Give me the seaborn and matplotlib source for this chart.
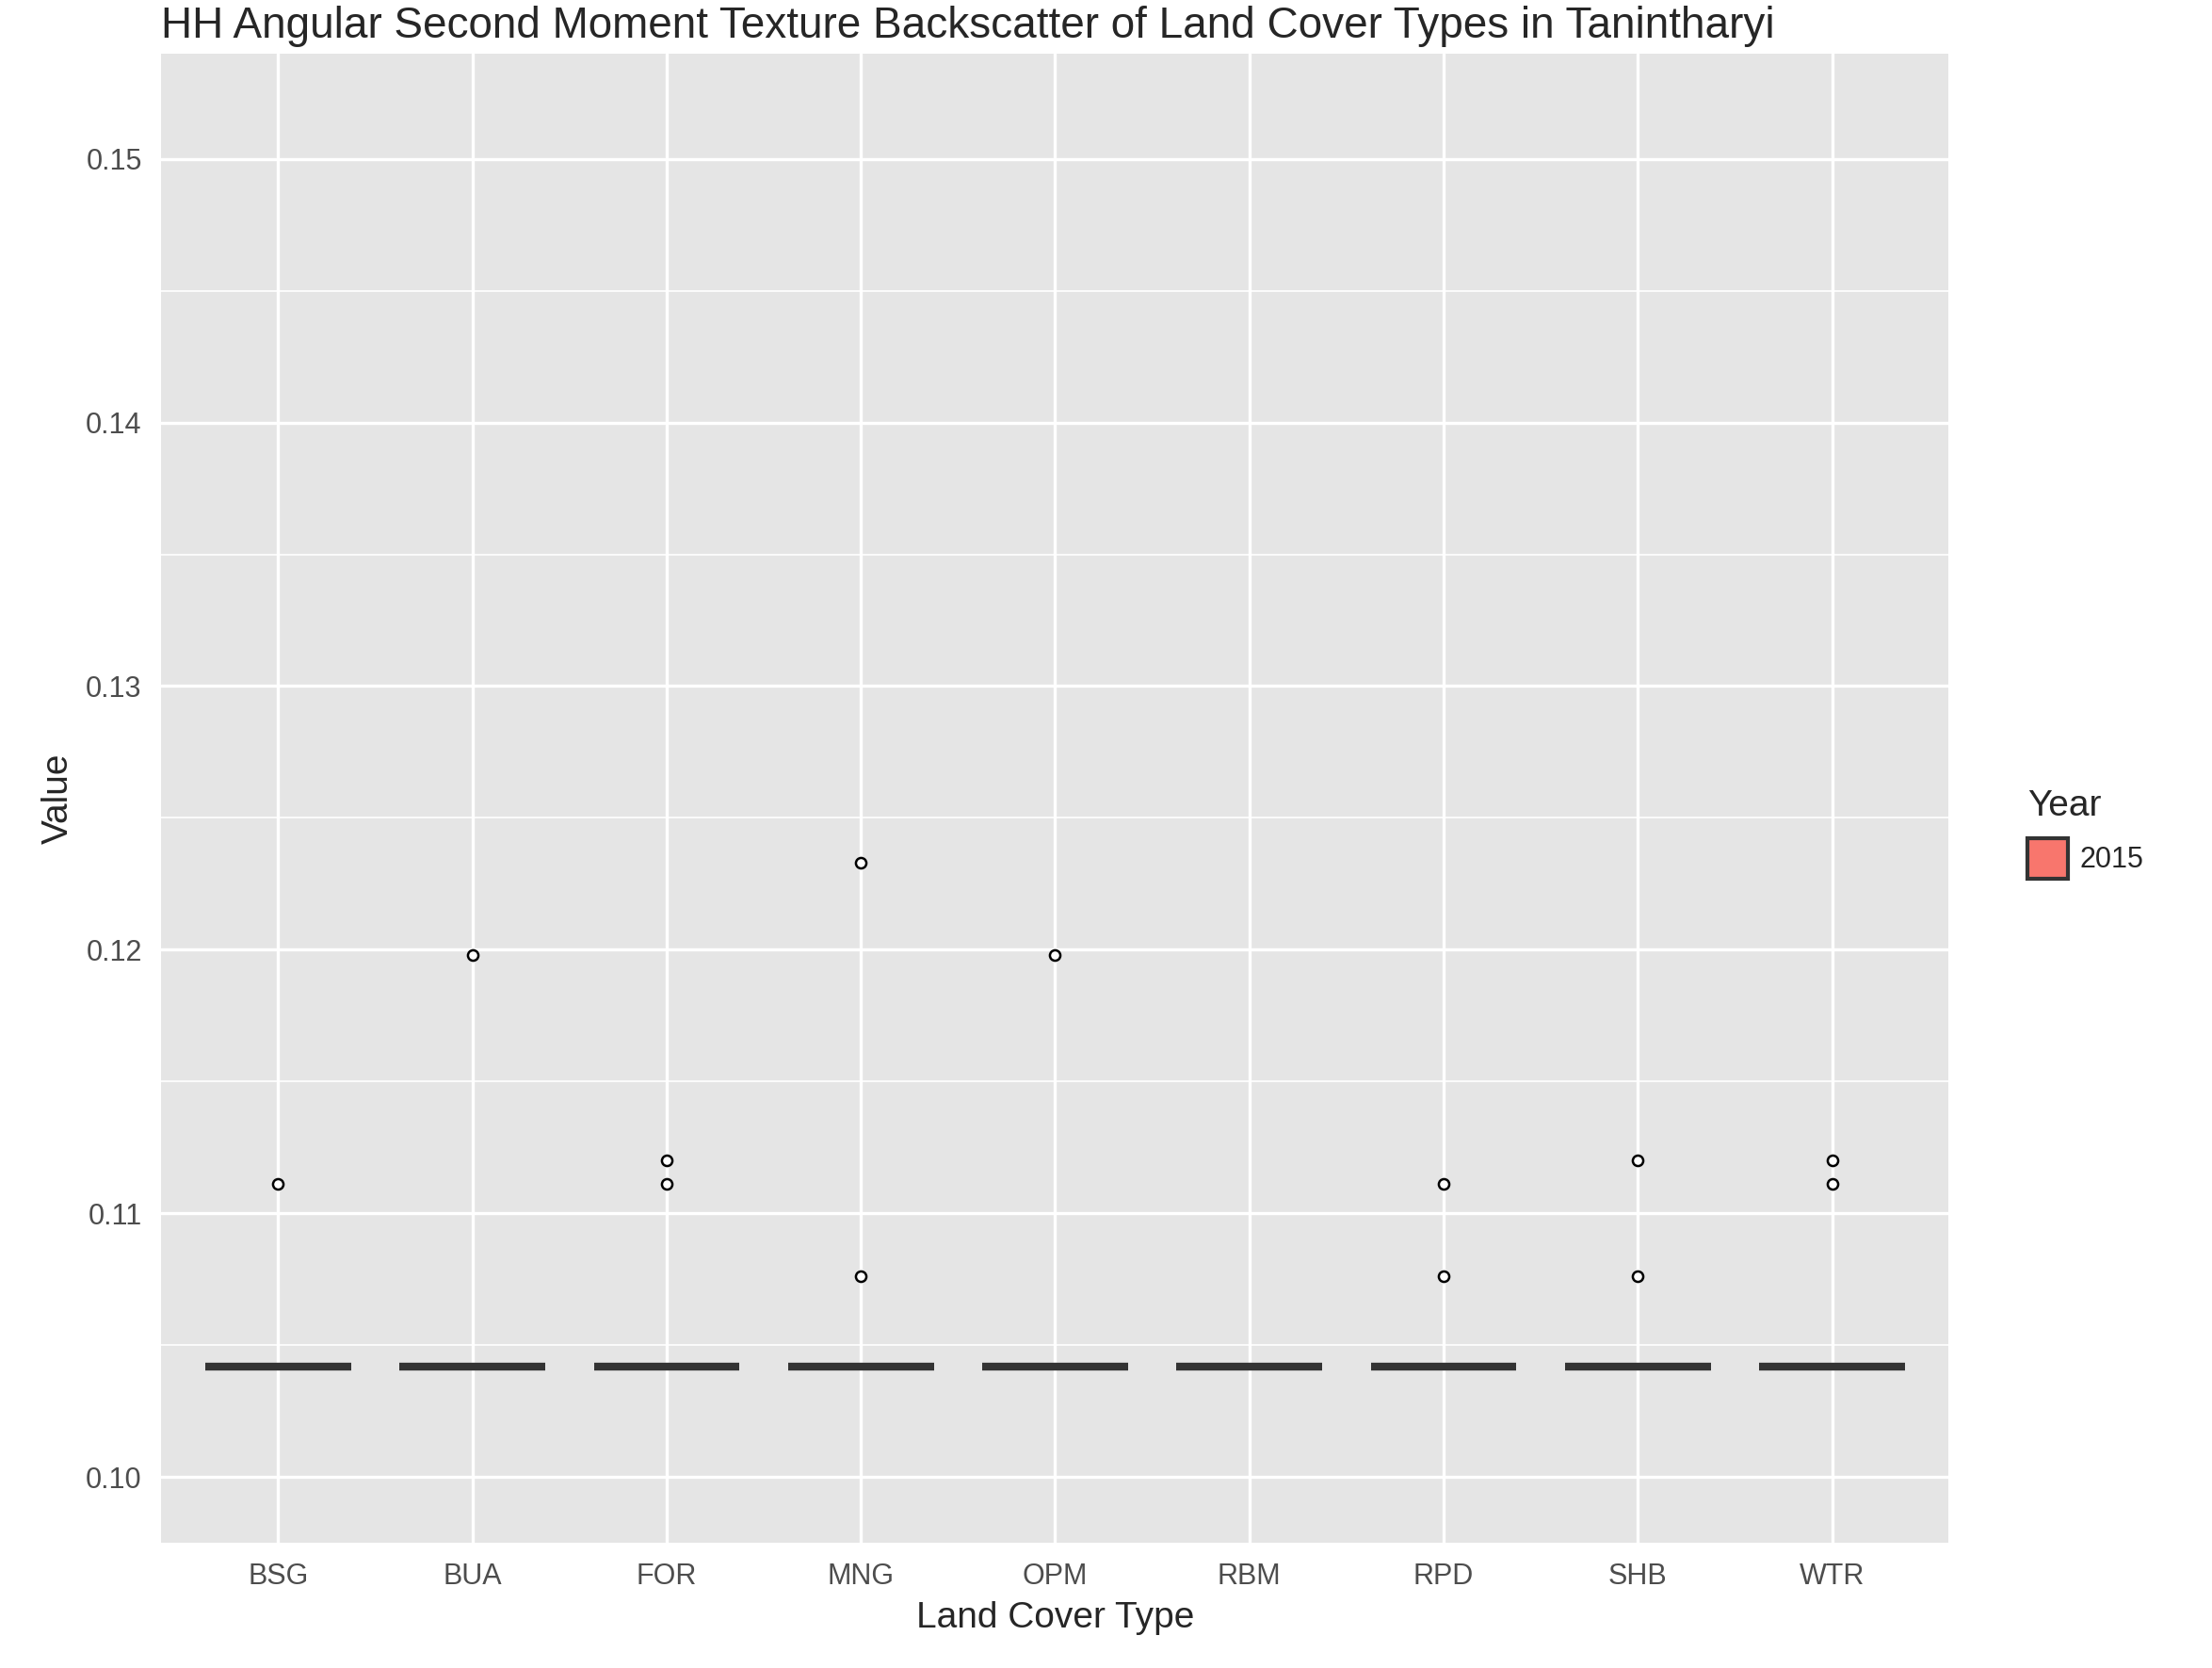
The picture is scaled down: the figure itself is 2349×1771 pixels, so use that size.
import pandas as pd
import numpy as np
import matplotlib.pyplot as plt
import seaborn as sns
from matplotlib.patches import Patch

categories = ['BSG', 'BUA', 'FOR', 'MNG', 'OPM', 'RBM', 'RPD', 'SHB', 'WTR']
base_value = 0.10417
base_count = 30
outliers = {
    'BSG': [0.1111],
    'BUA': [0.1198],
    'FOR': [0.1120, 0.1111],
    'MNG': [0.1233, 0.1076],
    'OPM': [0.1198],
    'RBM': [],
    'RPD': [0.1111, 0.1076],
    'SHB': [0.1120, 0.1076],
    'WTR': [0.1120, 0.1111],
}

rows = []
for c in categories:
    rows += [(c, base_value, '2015')] * base_count
    rows += [(c, v, '2015') for v in outliers[c]]
df = pd.DataFrame(rows, columns=['Land Cover Type', 'Value', 'Year'])

sns.set_style("darkgrid", {"axes.facecolor": "#E5E5E5", "grid.color": "white"})
plt.rcParams['font.family'] = ['Liberation Sans', 'DejaVu Sans']

fig = plt.figure(figsize=(11.745, 8.855), dpi=200)
ax = fig.add_axes([0.073, 0.075, 0.808, 0.893])
sns.boxplot(data=df, x='Land Cover Type', y='Value', color='#F8766D', width=0.75,
            linecolor='#333333', linewidth=1.5, ax=ax,
            medianprops=dict(linewidth=3, color='#333333'),
            flierprops=dict(marker='o', markersize=4, markerfacecolor='white',
                            markeredgecolor='black', markeredgewidth=0.9))
ax.set_ylim(0.0975, 0.154)
ax.set_xlim(-0.6, 8.6)
ax.set_yticks([0.10, 0.11, 0.12, 0.13, 0.14, 0.15])
ax.set_yticklabels(['0.10', '0.11', '0.12', '0.13', '0.14', '0.15'])
ax.set_yticks(np.arange(0.105, 0.155, 0.01), minor=True)
ax.grid(True, which='major', color='white', linewidth=1.2)
ax.grid(True, which='minor', axis='y', color='white', linewidth=0.6)
ax.tick_params(axis='both', labelsize=11, colors='#4D4D4D', length=4, width=1, which='major')
ax.tick_params(which='minor', length=0)
for s in ax.spines.values():
    s.set_visible(False)
ax.set_xlabel('Land Cover Type', fontsize=14)
ax.set_ylabel('Value', fontsize=14)
ax.set_title('HH Angular Second Moment Texture Backscatter of Land Cover Types in Tanintharyi',
             fontsize=16.5, loc='left', x=0.0)

fig.legend(handles=[Patch(facecolor='#F8766D', edgecolor='#333333', linewidth=1.5, label='2015')],
           title='Year', loc='center left', bbox_to_anchor=(0.905, 0.5), frameon=False,
           fontsize=11, title_fontsize=14, alignment='left',
           handlelength=1.4, handleheight=1.8, handletextpad=0.4)
fig.savefig('out.png', dpi=200)
